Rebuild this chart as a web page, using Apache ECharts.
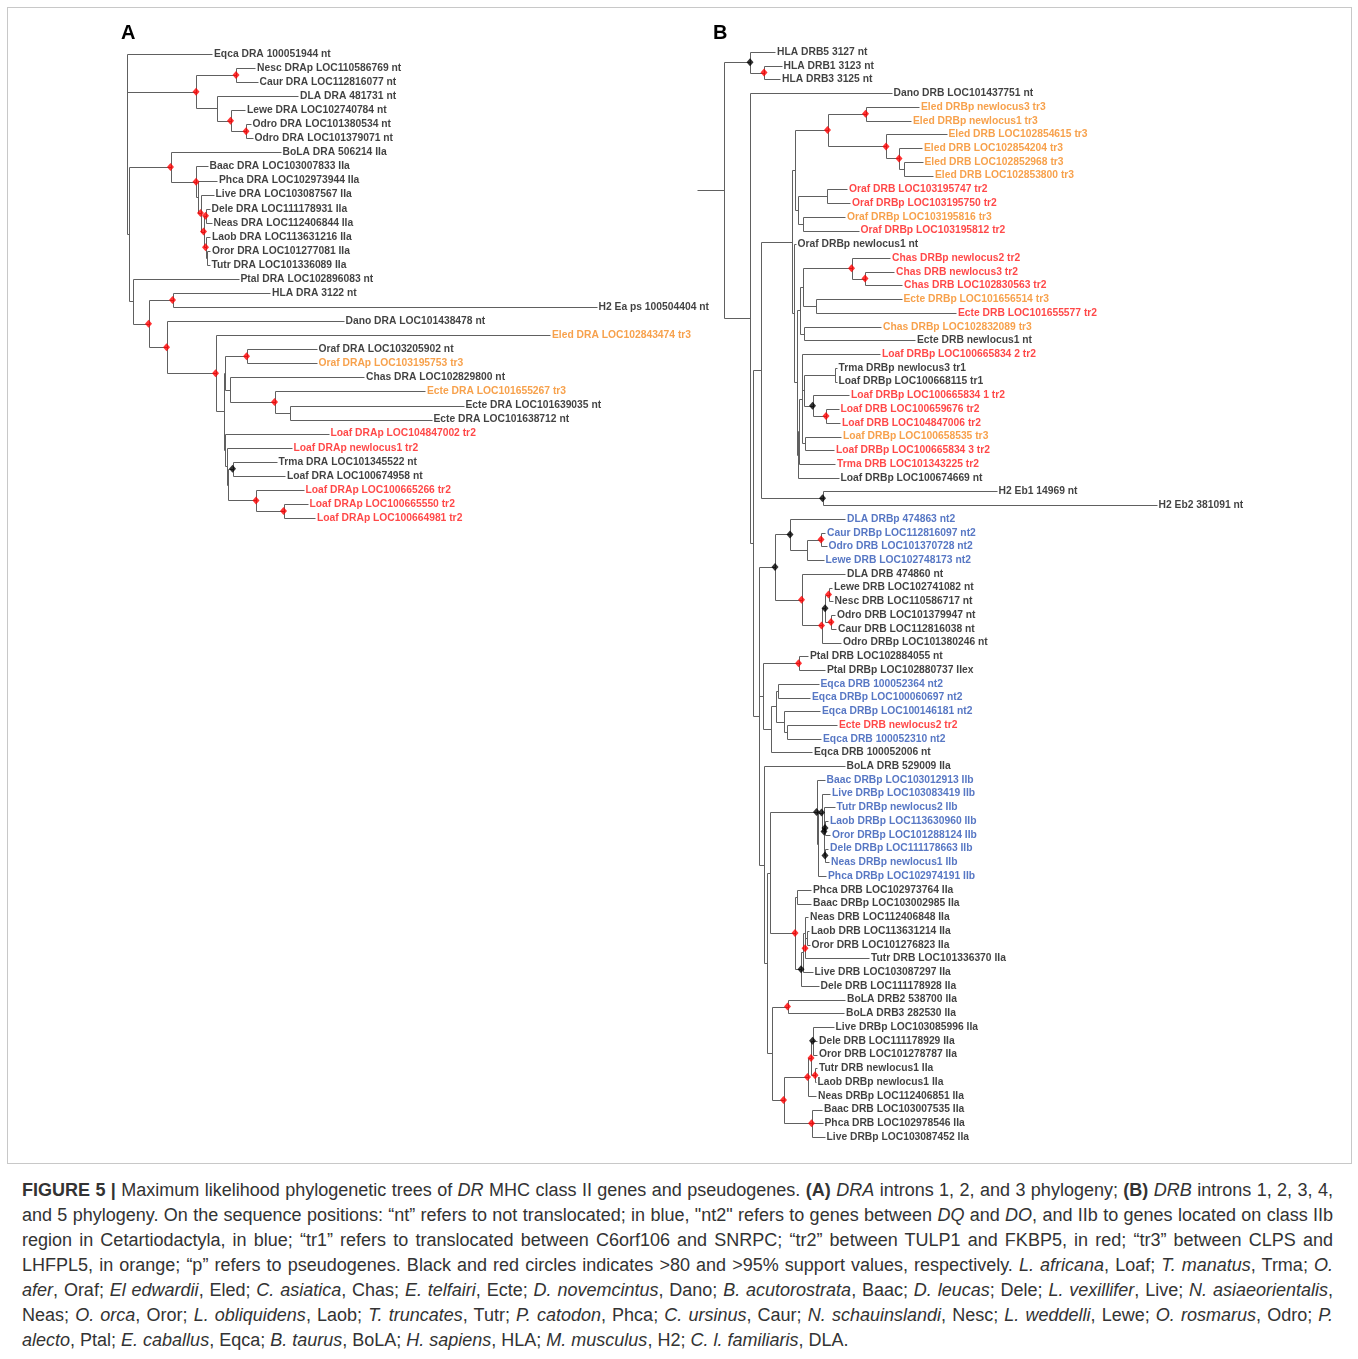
<!DOCTYPE html>
<html><head><meta charset="utf-8">
<script src="https://cdn.jsdelivr.net/npm/echarts@6/dist/echarts.min.js"></script>
<style>
html,body{margin:0;padding:0;background:#fff;}
#frame{position:absolute;left:7px;top:7px;width:1345px;height:1157px;border:1px solid #c8c8c8;box-sizing:border-box;}
#chart{position:absolute;left:0;top:0;width:1358px;height:1165px;}
#cap{position:absolute;left:22px;top:1178px;width:1311px;font-family:"Liberation Sans",Arial,sans-serif;font-size:18px;line-height:25px;color:#333;}
#cap div{text-align:justify;text-align-last:justify;white-space:nowrap;}
#cap div.last{text-align-last:left;}
</style></head>
<body>
<div id="frame"></div>
<div id="chart"></div>
<div id="cap"></div>
<script>
// ---------------- Panel A (DRA) ----------------
const leafA = [
 'Eqca DRA 100051944 nt','Nesc DRAp LOC110586769 nt','Caur DRA LOC112816077 nt','DLA DRA 481731 nt',
 'Lewe DRA LOC102740784 nt','Odro DRA LOC101380534 nt','Odro DRA LOC101379071 nt','BoLA DRA 506214 IIa',
 'Baac DRA LOC103007833 IIa','Phca DRA LOC102973944 IIa','Live DRA LOC103087567 IIa','Dele DRA LOC111178931 IIa',
 'Neas DRA LOC112406844 IIa','Laob DRA LOC113631216 IIa','Oror DRA LOC101277081 IIa','Tutr DRA LOC101336089 IIa',
 'Ptal DRA LOC102896083 nt','HLA DRA 3122 nt','H2 Ea ps 100504404 nt','Dano DRA LOC101438478 nt',
 'Eled DRA LOC102843474 tr3','Oraf DRA LOC103205902 nt','Oraf DRAp LOC103195753 tr3','Chas DRA LOC102829800 nt',
 'Ecte DRA LOC101655267 tr3','Ecte DRA LOC101639035 nt','Ecte DRA LOC101638712 nt','Loaf DRAp LOC104847002 tr2',
 'Loaf DRAp newlocus1 tr2','Trma DRA LOC101345522 nt','Loaf DRA LOC100674958 nt','Loaf DRAp LOC100665266 tr2',
 'Loaf DRAp LOC100665550 tr2','Loaf DRAp LOC100664981 tr2'];
const tagA = ['n','n','n','n','n','n','n','n','n','n','n','n','n','n','n','n','n','n','n','n',
 'o','n','o','n','o','n','n','r','r','n','n','r','r','r'];
const tipA = [86,129,131.5,172,119,124.5,126.5,154.5,81.5,91,87.5,83.5,85.5,84,84,83.5,
 112.5,144,470.5,217.5,424,190.5,190.5,238,299,337.5,305.5,202.5,165.5,150.5,159,177.5,181.5,189];
// [id, x, children (numbers = leaves), support ('r' >95, 'k' >80)]
const nodeA = [
 ['a0',0.5,[0,'aC0','aX2'],''],
 ['aC0',70,['aNC','aC2'],'r'],
 ['aNC',110,[1,2],'r'],
 ['aC2',90.5,[3,'aC3'],''],
 ['aC3',104.5,[4,'aOd'],'r'],
 ['aOd',120,[5,6],'r'],
 ['aX2',3,['aB0','aX3'],''],
 ['aB0',44.5,[7,'aB1'],'r'],
 ['aB1',70,[8,'aB1b'],'r'],
 ['aB1b',71.5,[9,'aD5'],''],
 ['aD5',74.5,[10,'aD4'],'r'],
 ['aD4',77.5,['aD1','aD3'],'r'],
 ['aD1',79.5,[11,12],'r'],
 ['aD3',79.5,[13,'aD2'],'r'],
 ['aD2',81,[14,15],''],
 ['aX3',6.5,[16,'aN4'],''],
 ['aN4',22.5,['aHH','aN5'],'r'],
 ['aHH',46.5,[17,18],'r'],
 ['aN5',40.5,[19,'aN6'],'r'],
 ['aN6',89.5,[20,'aN7'],'r'],
 ['aN7',97.5,['aN8','aN9'],''],
 ['aN8',98.5,['aOr','aCh'],''],
 ['aOr',120.5,[21,22],'r'],
 ['aCh',104,[23,'aEc'],''],
 ['aEc',148.5,[24,'aEc2'],'r'],
 ['aEc2',164,[25,26],''],
 ['aN9',99,[27,'aM2'],''],
 ['aM2',100.5,[28,'aM3'],''],
 ['aM3',102,['aTL','aLf'],''],
 ['aTL',106.5,[29,30],'k'],
 ['aLf',130,[31,'aLf2'],'r'],
 ['aLf2',157.5,[32,33],'r']
];

// ---------------- Panel B (DRB) ----------------
const leafB = [
 'HLA DRB5 3127 nt','HLA DRB1 3123 nt','HLA DRB3 3125 nt','Dano DRB LOC101437751 nt',
 'Eled DRBp newlocus3 tr3','Eled DRBp newlocus1 tr3','Eled DRB LOC102854615 tr3','Eled DRB LOC102854204 tr3',
 'Eled DRB LOC102852968 tr3','Eled DRB LOC102853800 tr3','Oraf DRB LOC103195747 tr2','Oraf DRBp LOC103195750 tr2',
 'Oraf DRBp LOC103195816 tr3','Oraf DRBp LOC103195812 tr2','Oraf DRBp newlocus1 nt','Chas DRBp newlocus2 tr2',
 'Chas DRB newlocus3 tr2','Chas DRB LOC102830563 tr2','Ecte DRBp LOC101656514 tr3','Ecte DRB LOC101655577 tr2',
 'Chas DRBp LOC102832089 tr3','Ecte DRB newlocus1 nt','Loaf DRBp LOC100665834 2 tr2','Trma DRBp newlocus3 tr1',
 'Loaf DRBp LOC100668115 tr1','Loaf DRBp LOC100665834 1 tr2','Loaf DRB LOC100659676 tr2','Loaf DRB LOC104847006 tr2',
 'Loaf DRBp LOC100658535 tr3','Loaf DRBp LOC100665834 3 tr2','Trma DRB LOC101343225 tr2','Loaf DRBp LOC100674669 nt',
 'H2 Eb1 14969 nt','H2 Eb2 381091 nt','DLA DRBp 474863 nt2','Caur DRBp LOC112816097 nt2',
 'Odro DRB LOC101370728 nt2','Lewe DRB LOC102748173 nt2','DLA DRB 474860 nt','Lewe DRB LOC102741082 nt',
 'Nesc DRB LOC110586717 nt','Odro DRB LOC101379947 nt','Caur DRB LOC112816038 nt','Odro DRBp LOC101380246 nt',
 'Ptal DRB LOC102884055 nt','Ptal DRBp LOC102880737 IIex','Eqca DRB 100052364 nt2','Eqca DRBp LOC100060697 nt2',
 'Eqca DRBp LOC100146181 nt2','Ecte DRB newlocus2 tr2','Eqca DRB 100052310 nt2','Eqca DRB 100052006 nt',
 'BoLA DRB 529009 IIa','Baac DRBp LOC103012913 IIb','Live DRBp LOC103083419 IIb','Tutr DRBp newlocus2 IIb',
 'Laob DRBp LOC113630960 IIb','Oror DRBp LOC101288124 IIb','Dele DRBp LOC111178663 IIb','Neas DRBp newlocus1 IIb',
 'Phca DRBp LOC102974191 IIb','Phca DRB LOC102973764 IIa','Baac DRBp LOC103002985 IIa','Neas DRB LOC112406848 IIa',
 'Laob DRB LOC113631214 IIa','Oror DRB LOC101276823 IIa','Tutr DRB LOC101336370 IIa','Live DRB LOC103087297 IIa',
 'Dele DRB LOC111178928 IIa','BoLA DRB2 538700 IIa','BoLA DRB3 282530 IIa','Live DRBp LOC103085996 IIa',
 'Dele DRB LOC111178929 IIa','Oror DRB LOC101278787 IIa','Tutr DRB newlocus1 IIa','Laob DRBp newlocus1 IIa',
 'Neas DRBp LOC112406851 IIa','Baac DRB LOC103007535 IIa','Phca DRB LOC102978546 IIa','Live DRBp LOC103087452 IIa'];
const tagB = ['n','n','n','n','o','o','o','o','o','o','r','r','o','r','n','r','r','r','o','r',
 'o','n','r','n','n','r','r','r','o','r','r','n','n','n','b','b','b','b','n','n',
 'n','n','n','n','n','n','b','b','b','r','b','n','n','b','b','b','b','b','b','b',
 'b','n','n','n','n','n','n','n','n','n','n','n','n','n','n','n','n','n','n','n'];
const tipB = [78,84.5,83,194.5,222,214,249.5,225,225.5,236,150,153,148,161.5,98.5,193,197,205,204.5,259,
 184,218,183,139.5,139.5,152,141.5,143,144,137,138,141.5,299.5,459.5,148,128,129.5,126.5,148,135,
 135.5,138,139,144,111,128,121.5,113,123,140,124,115,147.5,127.5,133,137.5,131,133,131,132,
 129,114,114,111,112,112.5,172,115.5,121.5,148,147,136.5,120,120,120,118.5,119,125,125.5,127.5];
const nodeB = [
 ['b0',0,['bR1'],''],
 ['bR1',26.5,['bHLA','bR2'],''],
 ['bHLA',53,[0,'bH13'],'k'],
 ['bH13',67,[1,2],'r'],
 ['bR2',53,[3,'bR2x'],''],
 ['bR2x',55.5,['bR4','bR5'],''],
 ['bR4',64,['bG','bH2'],''],
 ['bH2',125.5,[32,33],'k'],
 ['bG',95,['bGu','bGl'],''],
 ['bGu',98,['bEl','bOf'],''],
 ['bEl',130.5,['bEl1','bEl2'],'r'],
 ['bEl1',168.5,[4,5],'r'],
 ['bEl2',189,[6,'bEl3'],'r'],
 ['bEl3',202,[7,'bEl4'],'r'],
 ['bEl4',207,[8,9],''],
 ['bOf',100.5,['bOf1','bOf2'],''],
 ['bOf1',129.5,[10,11],''],
 ['bOf2',105.5,[12,13],''],
 ['bGl',97,[14,'bGl2'],''],
 ['bGl2',100,['bCn','bLd'],''],
 ['bCn',103,['bCC','bCE'],''],
 ['bCC',105.5,['bCh1','bEc1'],''],
 ['bCh1',154.5,[15,'bCh2'],'r'],
 ['bCh2',168,[16,17],'r'],
 ['bEc1',119,[18,19],''],
 ['bCE',106.5,[20,21],''],
 ['bLd',101,['bLc',31],''],
 ['bLc',102,['bLb',30],''],
 ['bLb',104.5,[22,'bLa','bL53'],''],
 ['bLa',106.5,['bTL','bLk'],''],
 ['bTL',138,[23,24],''],
 ['bLk',115.5,[25,'bLr'],'k'],
 ['bLr',129,[26,27],'r'],
 ['bL53',108,[28,29],''],
 ['bR5',62,['bK0','bP0','bT1'],''],
 ['bK0',78,['bK1','bK2'],'k'],
 ['bK1',93,[34,'bK1b'],'k'],
 ['bK1b',109.5,['bCO',37],''],
 ['bCO',124,[35,36],'r'],
 ['bK2',104.5,[38,'bK3'],'r'],
 ['bK3',124.5,['bK4',43],'r'],
 ['bK4',128,['bLN','bOC'],'k'],
 ['bLN',131.5,[39,40],'r'],
 ['bOC',134,[41,42],'r'],
 ['bP0',65.5,['bPt','bE0'],''],
 ['bPt',101.5,[44,45],'r'],
 ['bE0',74,['bE1',51],''],
 ['bE1',78.5,['bE2','bE3'],''],
 ['bE2',80.5,[46,47],''],
 ['bE3',86.5,[48,'bE4'],''],
 ['bE4',89.5,[49,50],''],
 ['bT1',66.5,[52,'bQ0'],''],
 ['bQ0',69.5,['bS','bQ1'],''],
 ['bS',73,['bIIb0','bS0'],''],
 ['bIIb0',119.5,[53,'bIIb1'],'k'],
 ['bIIb1',121,['bIIb2',60],''],
 ['bIIb2',124.5,[54,'bIIb3'],'k'],
 ['bIIb3',127,[55,'bIIb4','bIIb5'],'k'],
 ['bIIb4',128,[56,57],'k'],
 ['bIIb5',128,[58,59],'k'],
 ['bS0',98,['bPB','bS1'],'r'],
 ['bPB',99.5,[61,62],''],
 ['bS1',104,['bS2',68],'k'],
 ['bS2',105.5,['bS3',67],''],
 ['bS3',107.5,[63,'bS4'],''],
 ['bS4',108,['bS5',66],'r'],
 ['bS5',109.5,[64,65],''],
 ['bQ1',74.5,['bBo','bQ2'],''],
 ['bBo',90.5,[69,70],'r'],
 ['bQ2',86.5,['bQ3','bQ4'],'r'],
 ['bQ3',110.5,['bQb',76],'r'],
 ['bQb',114,['bQc','bQa'],'r'],
 ['bQc',115.5,[71,72,73],'k'],
 ['bQa',118,[74,75],'r'],
 ['bQ4',114.5,[77,78,79],'r']
];

const tagColor = {n:'#111111', r:'#ff1a1a', o:'#f58a1f', b:'#2d55b5'};
const supportColor = {r:'#ff0000', k:'#000000'};

function buildTree(leaves, tips, nodes){
  const map = {};
  nodes.forEach(n => map[n[0]] = n);
  const yc = {};
  function y(ref){
    if (typeof ref === 'number') return ref;
    if (yc[ref] !== undefined) return yc[ref];
    const ch = map[ref][2];
    return (yc[ref] = (y(ch[0]) + y(ch[ch.length-1])) / 2);
  }
  const xOf = ref => typeof ref === 'number' ? tips[ref] : map[ref][1];
  const segs = [], marks = [];
  nodes.forEach(n => {
    const [id, x, ch, sup] = n;
    const y0 = y(ch[0]), y1 = y(ch[ch.length-1]);
    if (y1 !== y0) segs.push([x, y0, x, y1]);
    ch.forEach(c => segs.push([x, y(c), xOf(c), y(c)]));
    if (sup) marks.push({value:[x, y(id)], itemStyle:{color:supportColor[sup]}});
  });
  const labels = leaves.map((name, i) => ({name, value:[tips[i], i]}));
  return {segs, marks, labels};
}

const TA = buildTree(leafA, tipA, nodeA);
const TB = buildTree(leafB, tipB, nodeB);

const chart = echarts.init(document.getElementById('chart'), null, {renderer:'canvas'});

function branchSeries(T, idx){
  return {
    type:'custom', xAxisIndex:idx, yAxisIndex:idx, clip:false, silent:true,
    data:T.segs,
    renderItem:(params, api) => {
      const p1 = api.coord([api.value(0), api.value(1)]);
      const p2 = api.coord([api.value(2), api.value(3)]);
      const r = v => Math.round(v) + 0.5;
      return {type:'line', shape:{x1:r(p1[0]), y1:r(p1[1]), x2:r(p2[0]), y2:r(p2[1])},
        style:{stroke:'#606060', lineWidth:1}};
    }
  };
}
function labelSeries(T, tags, idx){
  return {
    type:'scatter', xAxisIndex:idx, yAxisIndex:idx, clip:false, silent:true,
    symbolSize:0, z:3,
    data:T.labels.map((d,i) => ({name:d.name, value:d.value,
      label:{color:tagColor[tags[i]]}})),
    label:{show:true, position:'right', distance:2, formatter:'{b}',
      fontFamily:'"Liberation Sans", Arial, sans-serif', fontWeight:'bold', fontSize:10.3}
  };
}
function markSeries(T, idx){
  return {
    type:'scatter', xAxisIndex:idx, yAxisIndex:idx, clip:false, silent:true,
    symbol:'diamond', symbolSize:[7,8], z:4, data:T.marks
  };
}

const hiddenX = (gi, max) => ({type:'value', gridIndex:gi, min:0, max:max, show:false});
const hiddenY = (gi, max) => ({type:'value', gridIndex:gi, min:0, max:max, inverse:true, show:false});

chart.setOption({
  animation:false,
  backgroundColor:'transparent',
  grid:[
    {left:126, top:54, width:600, height:464},
    {left:697, top:52, width:600, height:1085}
  ],
  xAxis:[hiddenX(0,600), hiddenX(1,600)],
  yAxis:[hiddenY(0,leafA.length-1), hiddenY(1,leafB.length-1)],
  graphic:[
    {type:'text', left:121, top:23, style:{text:'A', font:'bold 20px "Liberation Sans", Arial', fill:'#000'}},
    {type:'text', left:713, top:23, style:{text:'B', font:'bold 20px "Liberation Sans", Arial', fill:'#000'}}
  ],
  series:[
    branchSeries(TA,0), markSeries(TA,0), labelSeries(TA,tagA,0),
    branchSeries(TB,1), markSeries(TB,1), labelSeries(TB,tagB,1)
  ]
});

// ---------------- Caption ----------------
const captionLines = [
 '<b>FIGURE 5 |</b> Maximum likelihood phylogenetic trees of <i>DR</i> MHC class II genes and pseudogenes. <b>(A)</b> <i>DRA</i> introns 1, 2, and 3 phylogeny; <b>(B)</b> <i>DRB</i> introns 1, 2, 3, 4,',
 'and 5 phylogeny. On the sequence positions: \u201cnt\u201d refers to not translocated; in blue, "nt2" refers to genes between <i>DQ</i> and <i>DO</i>, and IIb to genes located on class IIb',
 'region in Cetartiodactyla, in blue; \u201ctr1\u201d refers to translocated between C6orf106 and SNRPC; \u201ctr2\u201d between TULP1 and FKBP5, in red; \u201ctr3\u201d between CLPS and',
 'LHFPL5, in orange; \u201cp\u201d refers to pseudogenes. Black and red circles indicates &gt;80 and &gt;95% support values, respectively. <i>L. africana</i>, Loaf; <i>T. manatus</i>, Trma; <i>O.</i>',
 '<i>afer</i>, Oraf; <i>El edwardii</i>, Eled; <i>C. asiatica</i>, Chas; <i>E. telfairi</i>, Ecte; <i>D. novemcintus</i>, Dano; <i>B. acutorostrata</i>, Baac; <i>D. leucas</i>; Dele; <i>L. vexillifer</i>, Live; <i>N. asiaeorientalis</i>,',
 'Neas; <i>O. orca</i>, Oror; <i>L. obliquidens</i>, Laob; <i>T. truncates</i>, Tutr; <i>P. catodon</i>, Phca; <i>C. ursinus</i>, Caur; <i>N. schauinslandi</i>, Nesc; <i>L. weddelli</i>, Lewe; <i>O. rosmarus</i>, Odro; <i>P.</i>',
 '<i>alecto</i>, Ptal; <i>E. caballus</i>, Eqca; <i>B. taurus</i>, BoLA; <i>H. sapiens</i>, HLA; <i>M. musculus</i>, H2; <i>C. l. familiaris</i>, DLA.'
];
document.getElementById('cap').innerHTML = captionLines.map((l,i) =>
  '<div' + (i === captionLines.length-1 ? ' class="last"' : '') + '>' + l + '</div>').join('');
</script>
</body></html>
